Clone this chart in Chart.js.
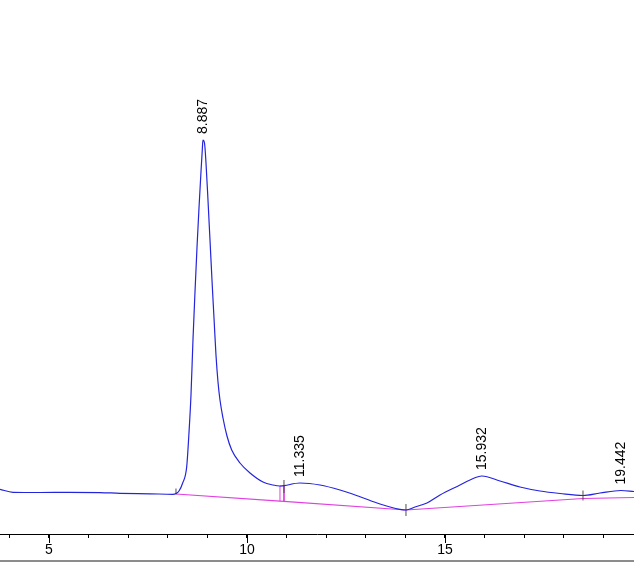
<!DOCTYPE html>
<html>
<head>
<meta charset="utf-8">
<script src="https://cdn.jsdelivr.net/npm/chart.js@4"></script>
<style>
  html, body { margin: 0; padding: 0; background: #fff; }
  #wrap { width: 634px; height: 560px; border-bottom: 2px solid #8c8c8c; }
</style>
</head>
<body>
<div id="wrap"><canvas id="chart" width="634" height="560"></canvas></div>
<script>
// -------------------------------
// Data (time in min, signal in arbitrary units)
// -------------------------------
const signalTimes = [
  3.763, 4.091, 4.773, 5.5, 6.288, 6.793, 7.551, 8.131, 8.207, 8.283, 8.376, 8.477,
  8.535, 8.586, 8.636, 8.687, 8.737, 8.788, 8.838, 8.871, 8.887, 8.927, 8.965,
  9.015, 9.066, 9.116, 9.167, 9.217, 9.268, 9.318, 9.394, 9.495, 9.614, 9.823,
  10.076, 10.404, 10.657, 10.833, 11.335, 11.843, 12.348, 12.854, 13.359, 13.864,
  14.015, 14.242, 14.545, 14.874, 15.379, 15.631, 15.932, 16.389, 16.894, 17.399,
  17.904, 18.485, 18.914, 19.442, 19.773
];
const signalValues = [
  44.7, 41.7, 41.5, 41.6, 41.4, 40.7, 40.2, 39.7, 40.5, 43, 51, 67,
  101, 139, 194, 242, 286, 326, 362, 384, 394, 391, 371,
  334, 294, 254, 216, 179, 152, 134, 116, 98, 84, 71,
  61, 52, 49, 48, 51, 49, 44, 37.3, 30, 24.7,
  24, 27, 31, 39, 49, 54, 58, 53, 47, 43,
  40.5, 38.5, 41, 43.5, 42.5
];

// baseline drawn under the peaks
const baselineTimes = [8.207, 10.833, 10.934, 14.015, 18.485, 19.773];
const baselineValues = [40, 32.8, 32.6, 24, 35.5, 36.5];

// drop lines at the split between the first two peaks
const dropTimes = [10.833, 10.833, 10.934, 10.934];
const dropValues = [32.8, 48, 48.4, 32.6];

// peak start / end markers
const markerTimes = [8.207, 10.934, 14.015, 18.485];
const markerValues = [42.5, 47.5, 24, 38.5];

// peak apex labels
const peakTimes = [8.887, 11.335, 15.932, 19.442];
const peakHeights = [394, 51, 58, 43.5];
const peakLabels = ["8.887", "11.335", "15.932", "19.442"];

// axis ticks
const tickValues = [4, 5, 6, 7, 8, 9, 10, 11, 12, 13, 14, 15, 16, 17, 18, 19];
const majorTicks = [5, 10, 15];

const xMin = 3.763;
const xMax = 19.773;
const yMin = 0;
const yMax = 534;

const toPoints = (xs, ys) => xs.map((x, i) => ({ x, y: ys[i] }));

// -------------------------------
// Peak labels + long major ticks
// -------------------------------
const peakLabelPlugin = {
  id: "peakLabels",
  afterDatasetsDraw(chart) {
    const { ctx, scales } = chart;
    const xs = scales.x;
    const ys = scales.y;
    ctx.save();
    ctx.fillStyle = "#000";
    ctx.font = "14px 'Liberation Sans', Arial, sans-serif";
    ctx.textAlign = "left";
    ctx.textBaseline = "middle";
    peakTimes.forEach((t, i) => {
      const px = xs.getPixelForValue(t);
      const py = ys.getPixelForValue(peakHeights[i]) - 6;
      ctx.save();
      ctx.translate(px, py);
      ctx.rotate(-Math.PI / 2);
      ctx.fillText(peakLabels[i], 0, 0);
      ctx.restore();
    });

    // longer ticks for the labelled values
    const axisY = chart.chartArea.bottom;
    ctx.strokeStyle = "#000";
    ctx.lineWidth = 1;
    majorTicks.forEach((v) => {
      const px = Math.round(xs.getPixelForValue(v)) + 0.5;
      ctx.beginPath();
      ctx.moveTo(px, axisY);
      ctx.lineTo(px, axisY + 9);
      ctx.stroke();
    });
    ctx.restore();
  },
};

new Chart(document.getElementById("chart"), {
  type: "line",
  data: {
    datasets: [
      {
        label: "signal",
        data: toPoints(signalTimes, signalValues),
        borderColor: "#2424dc",
        borderWidth: 1.2,
        pointRadius: 0,
        cubicInterpolationMode: "monotone",
        fill: false,
      },
      {
        label: "markers",
        data: toPoints(markerTimes, markerValues),
        showLine: false,
        pointStyle: "line",
        rotation: 90,
        pointRadius: [3, 6.5, 6, 5],
        borderColor: "#505050",
        borderWidth: 1,
      },
      {
        label: "drop",
        data: toPoints(dropTimes, dropValues),
        borderColor: "#e040e0",
        borderWidth: 1,
        pointRadius: 0,
        tension: 0,
      },
      {
        label: "baseline",
        data: toPoints(baselineTimes, baselineValues),
        borderColor: "#e040e0",
        borderWidth: 1.2,
        pointRadius: 0,
        tension: 0,
      },
    ],
  },
  options: {
    responsive: false,
    animation: false,
    layout: { padding: 0, autoPadding: false },
    plugins: {
      legend: { display: false },
      tooltip: { enabled: false },
    },
    scales: {
      x: {
        type: "linear",
        min: xMin,
        max: xMax,
        afterBuildTicks: (scale) => {
          scale.ticks = tickValues.map((v) => ({ value: v }));
        },
        afterFit: (scale) => {
          scale.height = 26;
          scale.paddingLeft = 0;
          scale.paddingRight = 0;
        },
        ticks: {
          autoSkip: false,
          maxRotation: 0,
          padding: 4,
          color: "#000",
          font: { family: "'Liberation Sans', Arial, sans-serif", size: 14 },
          callback: (v) => (majorTicks.includes(v) ? String(v) : ""),
        },
        grid: {
          drawOnChartArea: false,
          drawTicks: true,
          tickLength: 4,
          color: "#000",
        },
        border: { display: true, color: "#000", width: 1 },
      },
      y: {
        display: false,
        min: yMin,
        max: yMax,
      },
    },
  },
  plugins: [peakLabelPlugin],
});
</script>
</body>
</html>
